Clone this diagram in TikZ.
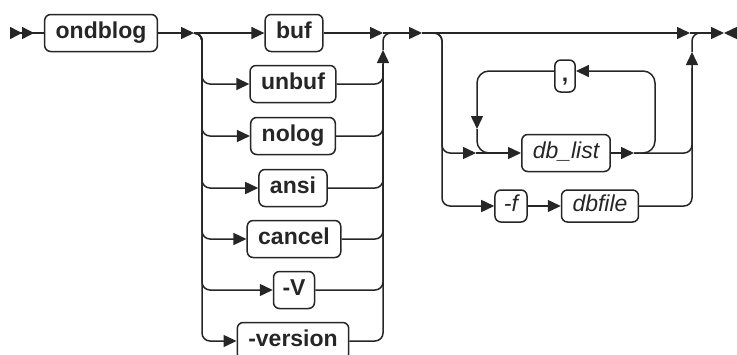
\documentclass[tikz,border=0pt]{standalone}
\usepackage{fontspec}
\setmainfont{Liberation Sans}
\usetikzlibrary{arrows.meta}

\begin{document}
\begin{tikzpicture}[x=1pt, y=-1pt, line width=1.5pt, color=black!85,
      every node/.append style={draw, rounded corners=6pt, font=\fontsize{23}{25}\selectfont\bfseries,
        inner xsep=11pt, inner ysep=0pt, minimum height=37pt, text height=16pt, text depth=5pt},
      rail/.style={rounded corners=8pt},
      loop/.style={rounded corners=12pt},
      arr/.style={-{Triangle[length=13pt,width=12pt]}}]
    \tikzstyle{var} = [font=\fontsize{23}{25}\selectfont\itshape]
    \useasboundingbox (0,0) rectangle (737,354);
    % keywords
    \node (ondblog) at (101,33) {ondblog};
    \node (buf) at (294,33) {buf};
    \node (unbuf) at (293,84) {unbuf};
    \node (nolog) at (293,136) {nolog};
    \node (ansi) at (293,188) {ansi};
    \node (cancel) at (294,239) {cancel};
    \node [inner xsep=9pt] (V) at (294,290) {-V};
    \node (version) at (293,341) {-version};
    \node [var] (dblist) at (566,153) {db\_list};
    \node [minimum height=32pt, inner xsep=7pt] (comma) at (565,76) {,};
    \node [var, minimum height=32pt, inner xsep=9pt] (fopt) at (511,206) {-f};
    \node [var, minimum height=32pt] (dbfile) at (600,206) {dbfile};
    % junctions
    \coordinate (start) at (10,33);
    \coordinate (in1) at (194,33);
    \coordinate (lv1) at (202,33);
    \coordinate (out1) at (383,33);
    \coordinate (up1) at (383,50);
    \coordinate (rj1) at (383,64);
    \coordinate (turn1) at (393,33);
    \coordinate (in2) at (422,33);
    \coordinate (lv2) at (442,33);
    \coordinate (out2) at (690,33);
    \coordinate (up2) at (692,52);
    \coordinate (rj2) at (692,68);
    \coordinate (turn2) at (702,33);
    \coordinate (stop) at (724,33);
    \coordinate (stopr) at (737,33);
    \coordinate (loopin) at (476,153);
    \coordinate (loopout) at (634,153);
    \coordinate (lpl) at (477,71);
    \coordinate (lpr) at (655,71);
    \coordinate (lpdown) at (477,129);
    \coordinate (lpjoin) at (500,153);
    % first choice
    \draw [-{Triangle[length=12pt,width=12pt,reversed]Triangle[length=12pt,width=12pt,reversed]}] (ondblog.west) -- (start);
    \draw [arr] (ondblog.east) -- (in1);
    \draw [arr] (in1) -- (buf.west);
    \foreach \n in {unbuf,nolog,ansi,cancel,V,version}
      \draw [arr, rail] (in1) -| (lv1 |- \n.west) -- (\n.west);
    \draw [arr] (buf.east) -- (out1);
    \foreach \n in {unbuf,nolog,ansi,cancel,V}
      \draw [rail] (\n.east) -| (rj1);
    \draw [arr, rail] (version.east) -| (up1);
    \draw [rail] (up1) |- (turn1);
    \draw [arr] (out1) -- (in2);
    % second choice
    \draw [arr] (in2) -- (out2);
    \draw [arr, rail] (in2) -| (lv2 |- loopin) -- (loopin);
    \draw [arr] (loopin) -- (dblist.west);
    \draw [arr, rail] (in2) -| (lv2 |- fopt.west) -- (fopt.west);
    \draw [arr] (fopt) -- (dbfile);
    \draw [arr] (dblist.east) -- (loopout);
    \draw [rail] (loopout) -| (rj2);
    \draw [arr, rail] (dbfile.east) -| (up2);
    \draw [rail] (up2) |- (turn2);
    % repeat loop
    \draw [arr, loop] (loopout) -| (lpr) -- (comma.east |- lpr);
    \draw [arr, loop] (comma.west |- lpl) -- (lpl) -- (lpdown);
    \draw [loop] (lpdown) |- (lpjoin);
    % end
    \draw [arr] (out2) -- (stop);
    \draw [arr] (stopr) -- (stop);
\end{tikzpicture}
\end{document}
